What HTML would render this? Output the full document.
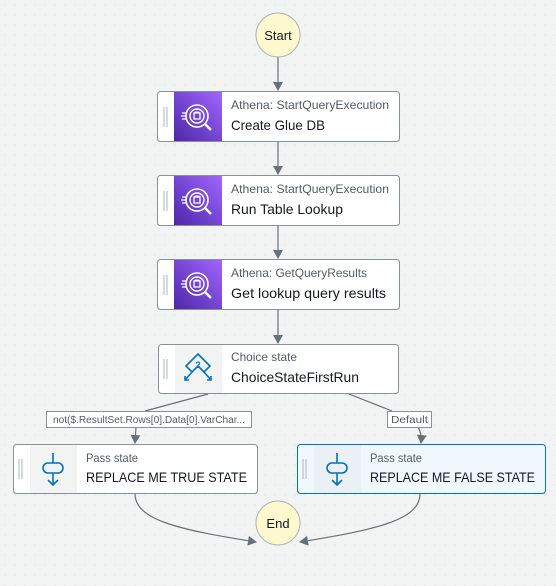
<!DOCTYPE html>
<html><head><meta charset="utf-8"><style>
html,body{margin:0;padding:0;background:#f2f3f3;}
svg{display:block;font-family:"Liberation Sans",sans-serif;}
</style></head><body>
<svg width="556" height="586" viewBox="0 0 556 586" xmlns="http://www.w3.org/2000/svg">
<defs>
<pattern id="dots" width="10" height="10" patternUnits="userSpaceOnUse"><circle cx="5" cy="5" r="0.6" fill="#dde1e1"/></pattern>
<marker id="ar" markerWidth="10" markerHeight="10" refX="8" refY="5" orient="auto" markerUnits="userSpaceOnUse"><path d="M0,0 L9,5 L0,10 z" fill="#687078"/></marker>
<linearGradient id="pg" x1="0" y1="1" x2="1" y2="0"><stop offset="0" stop-color="#4d27a8"/><stop offset="1" stop-color="#a166ff"/></linearGradient>
<g id="ath">
<circle cx="22" cy="23" r="11" fill="none" stroke="#fff" stroke-width="1.6"/>
<circle cx="22" cy="23" r="7" fill="none" stroke="#fff" stroke-width="1.4"/>
<path d="M19 20 h6 v6 h-6 z M19 20 q3 -2 6 0" fill="none" stroke="#fff" stroke-width="1.3"/>
<path d="M30 31 l6 6" stroke="#fff" stroke-width="2.5"/>
<path d="M7 20 h5 M6 23 h5 M7 26 h5" stroke="#fff" stroke-width="1.2"/>
</g>
<g id="pass">
<path d="M23 8 v10 M23 28 v12 M18 35 l5 5 l5 -5" fill="none" stroke="#0073bb" stroke-width="1.6"/>
<rect x="13" y="18" width="20" height="10" rx="5" fill="none" stroke="#0073bb" stroke-width="1.6"/>
</g>
</defs>
<rect width="556" height="586" fill="url(#dots)"/>

<g stroke="#687078" stroke-width="1.2" fill="none">
<line x1="278" y1="57" x2="278" y2="90" marker-end="url(#ar)"/>
<line x1="278" y1="141" x2="278" y2="174" marker-end="url(#ar)"/>
<line x1="278" y1="225" x2="278" y2="258" marker-end="url(#ar)"/>
<line x1="278" y1="309" x2="278" y2="343" marker-end="url(#ar)"/>
<path d="M208 394 L145 411"/>
<path d="M136 427 L135 443" marker-end="url(#ar)"/>
<path d="M349 394 L392 411"/>
<path d="M418 427 Q422 433 421 443" marker-end="url(#ar)"/>
<path d="M135 494 C135 520 180 530 256 542" marker-end="url(#ar)"/>
<path d="M420 494 C420 520 375 530 300 542" marker-end="url(#ar)"/>
</g>

<circle cx="278" cy="35" r="22" fill="#fdf8ce" stroke="#aab7b8"/>
<text x="278" y="40" font-size="13" text-anchor="middle" fill="#16191f">Start</text>
<circle cx="278" cy="523" r="22" fill="#fdf8ce" stroke="#aab7b8"/>
<text x="278" y="528" font-size="13" text-anchor="middle" fill="#16191f">End</text>

<g>
<rect x="157.5" y="91.5" width="242" height="50" rx="3" fill="#fff" stroke="#879196"/>
<rect x="174" y="92" width="48" height="49" fill="url(#pg)"/>
<use href="#ath" x="175" y="93"/>
<path d="M164 107 v20 M167 107 v20" stroke="#aab7b8"/>
<text x="231" y="109" font-size="12" fill="#545b64" textLength="158" lengthAdjust="spacingAndGlyphs">Athena: StartQueryExecution</text>
<text x="231" y="130" font-size="14" fill="#16191f" textLength="94" lengthAdjust="spacingAndGlyphs">Create Glue DB</text>
</g>
<g>
<rect x="157.5" y="175.5" width="242" height="50" rx="3" fill="#fff" stroke="#879196"/>
<rect x="174" y="176" width="48" height="49" fill="url(#pg)"/>
<use href="#ath" x="175" y="177"/>
<path d="M164 191 v20 M167 191 v20" stroke="#aab7b8"/>
<text x="231" y="193" font-size="12" fill="#545b64" textLength="158" lengthAdjust="spacingAndGlyphs">Athena: StartQueryExecution</text>
<text x="231" y="214" font-size="14" fill="#16191f" textLength="112" lengthAdjust="spacingAndGlyphs">Run Table Lookup</text>
</g>
<g>
<rect x="157.5" y="259.5" width="242" height="50" rx="3" fill="#fff" stroke="#879196"/>
<rect x="174" y="260" width="48" height="49" fill="url(#pg)"/>
<use href="#ath" x="175" y="261"/>
<path d="M164 275 v20 M167 275 v20" stroke="#aab7b8"/>
<text x="231" y="277" font-size="12" fill="#545b64" textLength="136" lengthAdjust="spacingAndGlyphs">Athena: GetQueryResults</text>
<text x="231" y="298" font-size="14" fill="#16191f" textLength="155" lengthAdjust="spacingAndGlyphs">Get lookup query results</text>
</g>

<g>
<rect x="158.5" y="344.5" width="240" height="49" rx="3" fill="#fff" stroke="#879196"/>
<rect x="175" y="345" width="47" height="48" fill="#f2f3f3"/>
<path d="M164 359 v20 M167 359 v20" stroke="#aab7b8"/>
<path d="M198 354 L210 366 L204 372 L198 366 L192 372 L186 366 Z" fill="none" stroke="#0073bb" stroke-width="1.6"/>
<text x="198" y="368" font-size="9" font-weight="bold" fill="#0073bb" text-anchor="middle">?</text>
<path d="M192 372 L185 380 M185 376 v4 h4 M204 372 L211 380 M211 376 v4 h-4" fill="none" stroke="#0073bb" stroke-width="1.6"/>
<text x="231" y="361" font-size="12" fill="#545b64" textLength="66" lengthAdjust="spacingAndGlyphs">Choice state</text>
<text x="231" y="382" font-size="14" fill="#16191f" textLength="128" lengthAdjust="spacingAndGlyphs">ChoiceStateFirstRun</text>
</g>

<rect x="46.5" y="411.5" width="205" height="16" fill="#fff" stroke="#879196"/>
<text x="149" y="423" font-size="10" fill="#545b64" text-anchor="middle" textLength="192" lengthAdjust="spacingAndGlyphs">not($.ResultSet.Rows[0].Data[0].VarChar...</text>
<rect x="387.5" y="411.5" width="44" height="16" fill="#fff" stroke="#879196"/>
<text x="409.5" y="423" font-size="10" fill="#545b64" text-anchor="middle" textLength="37" lengthAdjust="spacingAndGlyphs">Default</text>

<g>
<rect x="13.5" y="444.5" width="244" height="49" rx="3" fill="#fff" stroke="#879196"/>
<rect x="30" y="445" width="47" height="48" fill="#f2f3f3"/>
<path d="M19 459 v20 M22 459 v20" stroke="#aab7b8"/>
<use href="#pass" x="30" y="445"/>
<text x="86" y="462" font-size="12" fill="#545b64" textLength="52" lengthAdjust="spacingAndGlyphs">Pass state</text>
<text x="86" y="482" font-size="14" fill="#16191f" textLength="161" lengthAdjust="spacingAndGlyphs">REPLACE ME TRUE STATE</text>
</g>
<g>
<rect x="297.5" y="444.5" width="248" height="49" rx="3" fill="#f1f8fd" stroke="#0073bb"/>
<rect x="314" y="445" width="47" height="48" fill="#eaf0f4"/>
<path d="M303 459 v20 M306 459 v20" stroke="#aab7b8"/>
<use href="#pass" x="314" y="445"/>
<text x="370" y="462" font-size="12" fill="#545b64" textLength="52" lengthAdjust="spacingAndGlyphs">Pass state</text>
<text x="370" y="482" font-size="14" fill="#16191f" textLength="165" lengthAdjust="spacingAndGlyphs">REPLACE ME FALSE STATE</text>
</g>
</svg>
</body></html>
